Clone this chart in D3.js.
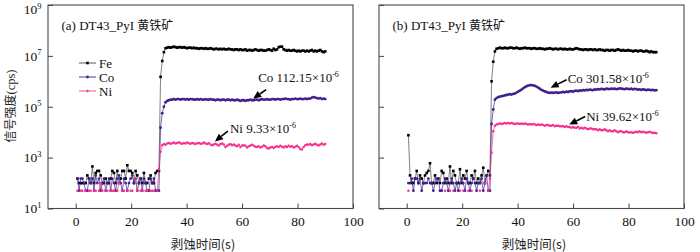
<!DOCTYPE html>
<html><head><meta charset="utf-8">
<script src="https://cdn.jsdelivr.net/npm/d3@7"></script>
<style>body{margin:0;background:#fff;}svg{display:block;}</style>
</head><body><svg id="c" width="700" height="252"></svg>
<script>
// ---------------- data ----------------
const seriesNames = ["Fe", "Co", "Ni"];
const panelTitles = ["(a) DT43_PyI 黄铁矿", "(b) DT43_PyI 黄铁矿"];
const xTicks = [0, 20, 40, 60, 80, 100];
const yTickExponents = [1, 3, 5, 7, 9];
const xAxisTitle = "剥蚀时间(s)";
const yAxisTitle = "信号强度(cps)";
const sampleStart = 0.6, sampleStep = 0.6; // acquisition clock (s)

// panel (a): background (gas blank), cps
const feA_bg = [150,100,100,100,100,100,200,150,100,450, 100,250,300,300,200,100,100,150,100,100, 150,300,250,100,300,100,150,300,300,150, 500,300,300,250,100,300,200,100,150,100, 250,100,100,150,200,100,100,250,300,300];
const coA_bg = [150,50,150,150,100,50,50,150,100,150, 50,200,100,150,50,100,150,50,100,150, 50,150,100,50,150,200,100,50,150,100, 50,100,150,200,100,150,50,100,150,50, 150,100,50,50,150,100,150,50,50,50];
const niA_bg = [50,0,50,50,0,50,0,50,50,0, 50,50,0,50,100,50,0,50,50,0, 50,50,50,0,50,100,0,50,50,0, 50,0,50,50,0,150,50,0,50,50, 0,50,50,0,50,50,50,0,50,350];
const feA_rise = [1.5e6, 6.3e6, 1.4e7];
const coA_rise = [1.5e4, 5.6e4, 1.0e5];
const niA_rise = [1.7e3, 3.1e3, 3.4e3];
// ablation signal, in 1e7 / 1e5 / 1e3 cps
const feA_sig = [2.0,2.1,2.2,2.1,2.2,2.3,2.2,2.1,2.2,2.2,2.1,2.2,2.1,2.0,2.1,2.1,2.0,2.1,2.0,2.0, 1.9,2.0,2.0,1.9,2.0,1.9,1.9,2.0,1.9,1.8,1.9,1.9,1.8,1.9,1.8,1.9,1.8,1.8,1.9,1.8, 1.8,1.7,1.8,1.8,1.7,1.8,1.7,1.7,1.8,1.6,1.7,1.7,1.6,1.7,1.8,1.7,1.6,1.7,1.7,1.6, 1.6,1.7,1.8,1.7,1.6,1.9,1.7,1.8,2.2,2.3,2.3,1.8,1.7,1.6,1.7,1.6,1.6,1.7,1.6,1.5, 1.6,1.5,1.6,1.6,1.5,1.6,1.5,1.6,1.7,1.5,1.6,1.5,1.6,1.7,1.5,1.4,1.5];
const coA_sig = [1.5,1.7,1.8,1.9,1.9,2.0,1.9,2.0,2.0,1.9,2.0,2.0,1.9,2.0,1.9,2.0,2.0,1.9,1.9,2.0, 1.9,2.0,1.9,1.9,2.0,1.9,1.9,2.0,1.9,1.9,1.8,1.9,1.9,1.8,1.9,1.9,1.8,1.9,1.9,1.8, 1.9,1.8,1.8,1.9,1.8,1.7,1.8,1.8,1.7,1.8,1.8,1.9,1.8,1.8,1.9,1.9,1.8,1.9,2.0,1.9, 1.9,2.0,1.9,1.9,2.0,2.0,1.9,2.0,2.0,1.9,2.0,2.0,2.1,2.0,2.0,1.9,2.0,2.0,2.1,2.0, 2.0,2.1,2.0,2.0,2.1,2.0,2.1,2.1,2.3,2.4,2.3,2.2,2.1,2.2,2.0,2.1,2.0];
const niA_sig = [3.2,3.6,3.8,3.5,3.7,3.9,3.6,3.8,4.0,3.7,3.5,3.8,3.6,3.9,3.7,3.5,3.8,3.6,3.4,3.7, 3.8,3.5,3.6,3.9,3.6,3.4,3.7,3.3,3.1,3.3,3.5,3.2,3.0,3.4,3.6,3.3,2.6,2.9,3.2,3.4, 3.1,3.3,3.0,2.8,3.2,2.6,3.0,3.1,2.9,2.5,2.8,3.0,3.2,2.9,2.7,2.6,2.8,2.5,2.7,3.0, 2.8,2.4,2.3,2.5,2.6,2.4,2.7,2.8,2.6,2.9,2.7,2.5,2.8,2.6,2.9,2.7,2.8,2.5,2.7,2.9, 2.6,2.2,2.1,2.6,3.1,3.3,3.2,3.4,3.1,3.3,3.5,3.2,3.0,3.3,3.6,3.2,3.4];

// panel (b)
const feB_bg = [7600,200,100,100,150,300,100,200,150,100, 200,250,300,600,100,100,200,100,150,100, 300,250,100,150,100,450,100,300,200,100, 100,350,100,200,150,300,100,100,200,150, 300,100,150,100,200,400,100,200,300,200];
const coB_bg = [100,100,150,50,150,150,100,150,50,100, 100,100,150,100,100,50,100,150,150,50, 50,100,150,100,50,100,150,100,50,100, 50,100,150,100,50,150,100,50,100,150, 100,50,100,100,150,50,100,200,50,50];
const niB_bg = [50,0,0,0,0,0,0,0,0,0, 0,0,0,0,0,0,0,0,0,0, 0,0,50,0,0,50,0,50,0,0, 0,50,0,50,0,0,50,0,50,0, 0,0,0,50,0,0,100,0,50,150];
const feB_rise = [1.0e6, 5.9e6, 1.5e7];
const coB_rise = [2.1e4, 7.8e4, 1.9e5];
const niB_rise = [1.6e3, 1.1e4, 1.8e4];
// ablation signal, in 1e7 / 1e5 / 1e4 cps
const feB_sig = [1.9,2.0,2.1,2.0,2.0,2.1,2.0,2.0,2.1,2.1,2.0,2.0,2.1,2.0,1.9,2.0,2.0,2.1,2.0,2.0, 2.0,1.9,2.0,2.0,1.9,1.9,2.0,1.9,1.9,1.8,1.9,1.9,2.0,1.9,1.8,1.9,1.9,1.8,1.9,1.9, 1.8,1.9,1.8,1.8,1.9,1.8,1.8,1.9,2.0,1.9,1.8,1.8,1.7,1.8,1.8,1.7,1.8,1.8,1.7,1.8, 1.7,1.7,1.8,1.7,1.7,1.6,1.7,1.7,1.6,1.7,1.7,1.6,1.7,1.8,1.7,1.6,1.7,1.6,1.6,1.7, 1.6,1.6,1.5,1.6,1.6,1.5,1.6,1.6,1.5,1.5,1.6,1.5,1.4,1.5,1.4,1.4,1.4];
const coB_sig = [2.2,2.4,2.5,2.6,2.7,2.8,2.9,3.0,3.1,3.0,3.2,3.3,3.6,3.9,4.3,4.7,5.3,5.9,6.4,6.8, 7.0,7.1,6.9,6.6,6.2,5.6,5.1,4.6,4.3,4.0,3.8,3.6,3.5,3.6,3.5,3.6,3.7,3.5,3.6,3.7, 3.8,3.7,3.9,3.8,4.0,4.1,3.9,4.2,4.3,4.1,4.4,4.3,4.5,4.4,4.6,4.5,4.7,4.6,4.5,4.8, 4.7,4.9,4.8,5.0,4.9,4.8,5.1,5.0,4.9,5.2,5.0,5.1,4.9,5.0,5.3,5.1,5.0,4.9,5.2,5.0, 4.9,5.1,4.8,5.0,4.9,4.7,4.8,4.6,4.8,4.7,4.5,4.7,4.6,4.5,4.6,4.4,4.5];
const niB_sig = [2.0,2.1,2.2,2.1,2.2,2.3,2.2,2.3,2.2,2.3,2.2,2.1,2.2,2.2,2.1,2.2,2.1,2.2,2.1,2.0, 2.1,2.0,2.1,2.0,1.9,2.0,1.9,2.0,1.9,1.8,1.9,1.9,1.8,1.8,1.9,1.7,1.8,1.8,1.7,1.7, 1.7,1.6,1.7,1.6,1.6,1.5,1.6,1.5,1.5,1.6,1.4,1.5,1.4,1.5,1.4,1.3,1.4,1.4,1.3,1.3, 1.3,1.2,1.3,1.2,1.2,1.3,1.2,1.1,1.2,1.1,1.1,1.2,1.1,1.0,1.1,1.1,1.0,1.0,1.1,1.0, 0.98,1.0,0.95,1.0,1.05,1.0,1.1,1.0,1.05,1.0,0.95,1.0,1.05,0.98,0.92,0.95,0.9];

// annotations: element, concentration label, point the arrow marks (time s, cps)
const annA = [
  {el: "Co", conc: "112.15", t: 64.0, v: 2.1e5},
  {el: "Ni", conc: "9.33", t: 50.2, v: 4.3e3}
];
const annB = [
  {el: "Co", conc: "301.58", t: 51.9, v: 5.6e5},
  {el: "Ni", conc: "39.62", t: 58.6, v: 2.0e4}
];

// ---------------- build ----------------
const scaleUnit = (arr, u) => arr.map(v => v * u);
function build(bg, rise, sig, unit) {
  const vals = bg.concat(rise, scaleUnit(sig, unit));
  return vals.map((v, i) => ({t: sampleStart + i * sampleStep, v}));
}
const dataA = [build(feA_bg, feA_rise, feA_sig, 1e7), build(coA_bg, coA_rise, coA_sig, 1e5), build(niA_bg, niA_rise, niA_sig, 1e3)];
const dataB = [build(feB_bg, feB_rise, feB_sig, 1e7), build(coB_bg, coB_rise, coB_sig, 1e5), build(niB_bg, niB_rise, niB_sig, 1e4)];

const colors = {Fe: "#000000", Co: "#40208c", Ni: "#f4338e"};
const lineColors = {Fe: "#4a4a4a", Co: "#40208c", Ni: "#f4338e"};
const FONT = "'Liberation Serif','Times New Roman','Noto Sans CJK SC',serif";
const CJK = "'Noto Sans CJK SC','Liberation Serif',serif";

const svg = d3.select("#c");
const yTop = 5, yBot = 208.5;
const annLayout = {
  A: [{tail: [13, -9], label: [5, -21]}, {tail: [13, -10.5], label: [15, -13]}],
  B: [{tail: [16, -8], label: [17, -9]}, {tail: [16, -8], label: [17, -8]}]
};
const panels = [
  {title: panelTitles[0], x0: 48, x1: 353, showY: true, data: dataA, ann: annA, lay: annLayout.A},
  {title: panelTitles[1], x0: 379, x1: 684, showY: false, data: dataB, ann: annB, lay: annLayout.B}
];

panels.forEach((p, pi) => {
  const x = d3.scaleLinear().domain([-10, 100]).range([p.x0, p.x1]);
  const y = d3.scaleLog().domain([10, 1e9]).range([yBot, yTop]);
  const g = svg.append("g");

  const clipId = "clip" + pi;
  svg.append("clipPath").attr("id", clipId).append("rect")
    .attr("x", p.x0).attr("y", yTop).attr("width", p.x1 - p.x0).attr("height", yBot - yTop);

  // x axis
  const xa = g.append("g").attr("transform", `translate(0,${yBot})`)
    .call(d3.axisBottom(x).tickValues(xTicks).tickSizeInner(-5).tickSizeOuter(0).tickPadding(7.5));
  xa.select(".domain").remove();
  xa.selectAll("line").attr("stroke", "#444").attr("stroke-width", 1);
  xa.selectAll("text").attr("font-family", FONT).attr("font-size", 13.5).attr("fill", "#111");

  // y axis
  const ya = g.append("g").attr("transform", `translate(${p.x0},0)`)
    .call(d3.axisLeft(y).tickValues(yTickExponents.map(e => Math.pow(10, e))).tickSizeInner(-5).tickSizeOuter(0).tickFormat(""));
  ya.select(".domain").remove();
  ya.selectAll("line").attr("stroke", "#444").attr("stroke-width", 1);
  if (p.showY) {
    yTickExponents.forEach(e => {
      const by = Math.max(y(Math.pow(10, e)) + 4.8, 14);
      const tx = g.append("text").attr("x", p.x0 - 6.5).attr("y", by)
        .attr("text-anchor", "end").attr("font-family", FONT).attr("font-size", 13.5).attr("fill", "#111");
      tx.append("tspan").text("10");
      tx.append("tspan").attr("dy", -5.5).attr("font-size", 8.5).text(String(e));
    });
  }

  // frame
  g.append("rect").attr("x", p.x0).attr("y", yTop).attr("width", p.x1 - p.x0).attr("height", yBot - yTop)
    .attr("fill", "none").attr("stroke", "#4a4a4a").attr("stroke-width", 1.1);

  // series
  const plot = g.append("g").attr("clip-path", `url(#${clipId})`);
  const line = d3.line().defined(d => d.v > 0).x(d => x(d.t)).y(d => y(d.v));
  p.data.forEach((s, si) => {
    const name = seriesNames[si];
    plot.append("path").datum(s).attr("d", line).attr("fill", "none")
      .attr("stroke", lineColors[name]).attr("stroke-width", 0.7);
    const pts = s.filter(d => d.v > 0);
    if (name === "Fe") {
      plot.selectAll(null).data(pts).enter().append("rect")
        .attr("x", d => x(d.t) - 1.3).attr("y", d => y(d.v) - 1.3).attr("width", 2.6).attr("height", 2.6)
        .attr("fill", colors[name]);
    } else {
      plot.selectAll(null).data(pts).enter().append("circle")
        .attr("cx", d => x(d.t)).attr("cy", d => y(d.v)).attr("r", name === "Co" ? 1.4 : 1.25)
        .attr("fill", colors[name]);
    }
  });

  // title
  const tt = g.append("text").attr("x", p.x0 + 13.5).attr("y", 29.5).attr("font-size", 13).attr("fill", "#111");
  const m = p.title.match(/^(.*?)(\s*)([\u4e00-\u9fff]+)$/);
  tt.append("tspan").attr("font-family", FONT).text(m[1] + " ");
  tt.append("tspan").attr("font-family", CJK).attr("font-size", 12).text(m[3]);

  // annotations
  p.ann.forEach((a, ai) => {
    const L = p.lay[ai];
    const tx0 = x(a.t), ty0 = y(a.v);
    const tx1 = tx0 + L.tail[0], ty1 = ty0 + L.tail[1];
    const ang = Math.atan2(ty1 - ty0, tx1 - tx0);
    const hl = 8, hw = 3.6;
    const bx = tx0 + hl * Math.cos(ang), by = ty0 + hl * Math.sin(ang);
    const px = -Math.sin(ang) * hw, py = Math.cos(ang) * hw;
    g.append("line").attr("x1", bx).attr("y1", by).attr("x2", tx1).attr("y2", ty1)
      .attr("stroke", "#000").attr("stroke-width", 1.6);
    g.append("path").attr("d", `M${tx0},${ty0}L${bx + px},${by + py}L${bx - px},${by - py}Z`).attr("fill", "#000");
    const lt = g.append("text").attr("x", tx0 + L.label[0]).attr("y", ty0 + L.label[1] + 4.5)
      .attr("font-family", FONT).attr("font-size", 13).attr("fill", "#111");
    lt.append("tspan").text(`${a.el} ${a.conc}×10`);
    lt.append("tspan").attr("dy", -5.5).attr("font-size", 8).text("-6");
  });

  // x axis title
  g.append("text").attr("x", (p.x0 + p.x1) / 2 + 2.5).attr("y", 248.5).attr("text-anchor", "middle")
    .attr("font-family", CJK).attr("font-size", 12.5).attr("fill", "#222").text(xAxisTitle);

  // legend (panel a only)
  if (p.showY) {
    const lg = g.append("g");
    const ly = [63, 77, 91];
    seriesNames.forEach((n, i) => {
      lg.append("line").attr("x1", 79).attr("x2", 96).attr("y1", ly[i]).attr("y2", ly[i])
        .attr("stroke", lineColors[n]).attr("stroke-width", 0.9);
      if (n === "Fe") lg.append("rect").attr("x", 86.2).attr("y", ly[i] - 1.3).attr("width", 2.6).attr("height", 2.6).attr("fill", colors[n]);
      else lg.append("circle").attr("cx", 87.5).attr("cy", ly[i]).attr("r", n === "Co" ? 1.4 : 1.2).attr("fill", colors[n]);
      lg.append("text").attr("x", 99).attr("y", ly[i] + 4.5).attr("font-family", FONT).attr("font-size", 13)
        .attr("fill", "#111").text(n);
    });
  }
});

// y axis title
svg.append("text").attr("transform", "translate(15,106) rotate(-90)").attr("text-anchor", "middle")
  .attr("font-size", 12).attr("fill", "#222")
  .call(t => {
    t.append("tspan").attr("font-family", CJK).text(yAxisTitle.slice(0, 4));
    t.append("tspan").attr("font-family", FONT).attr("font-size", 12.5).text(yAxisTitle.slice(4));
  });
</script></body></html>
